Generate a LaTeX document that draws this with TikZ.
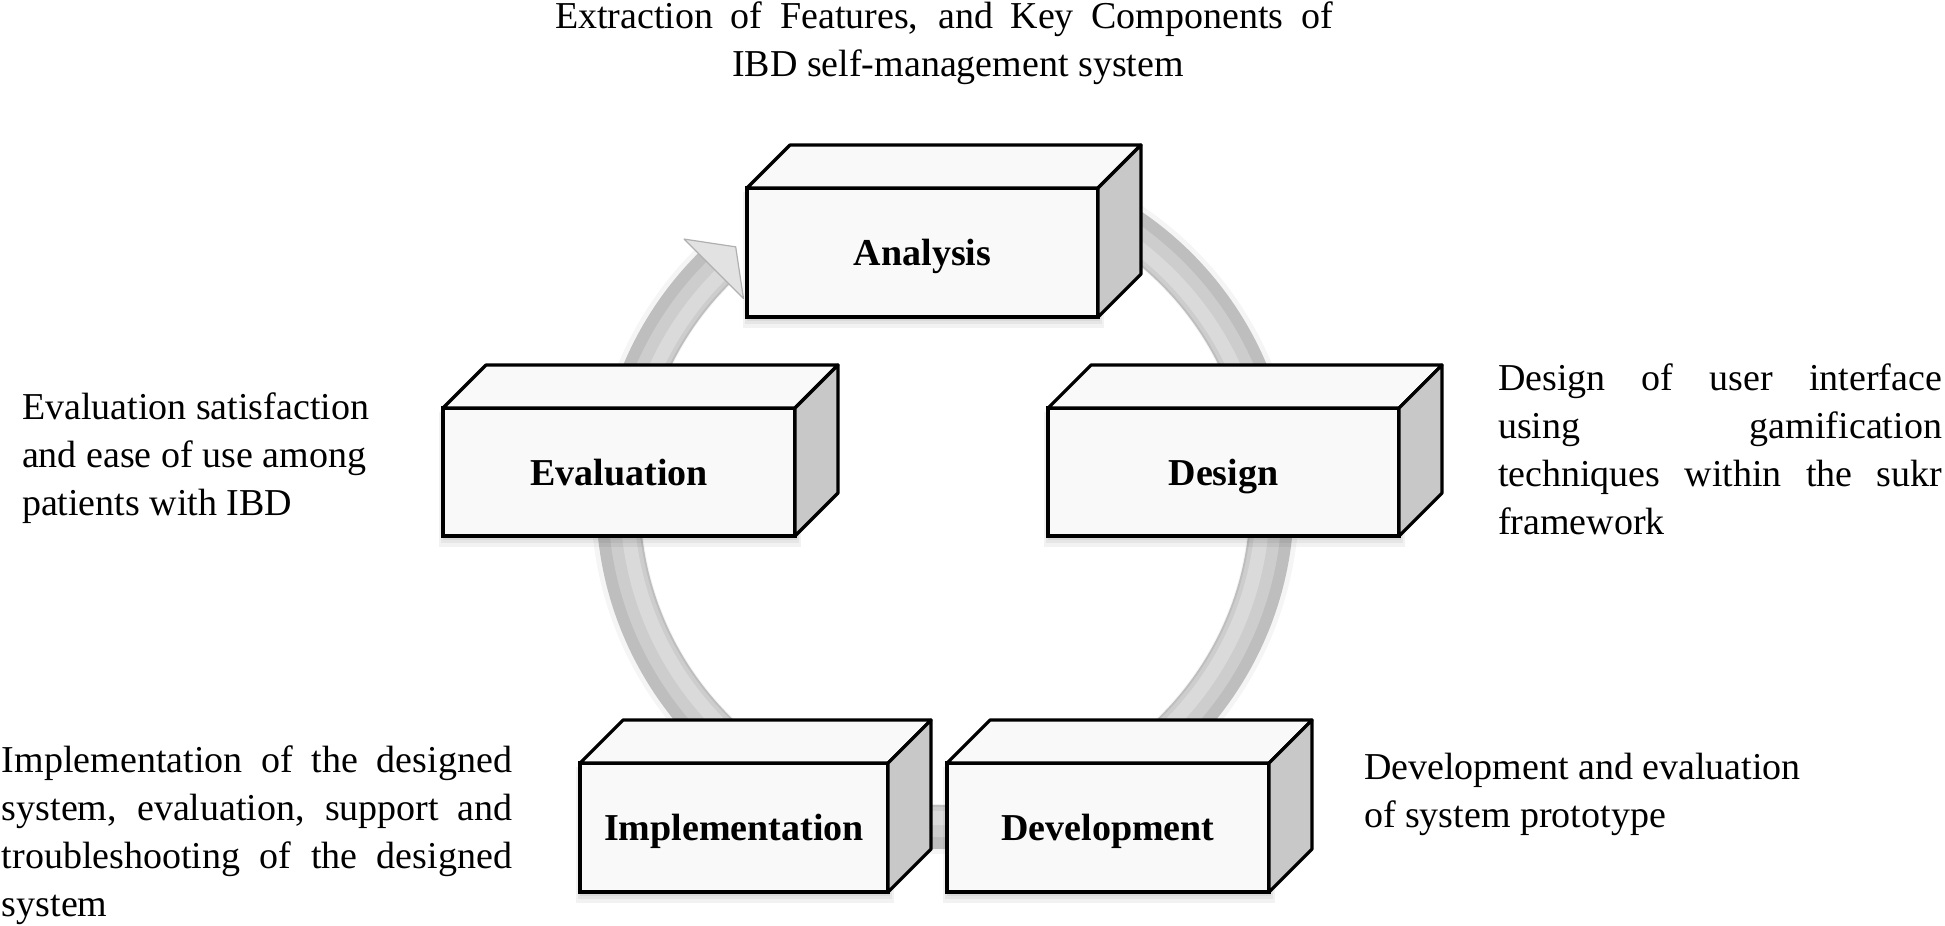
\documentclass[tikz,border=0pt]{standalone}
\usepackage{fontspec}
\setmainfont{Liberation Serif}
\usetikzlibrary{calc}
\definecolor{facefront}{HTML}{F9F9F9}
\definecolor{faceside}{HTML}{C8C8C8}
\definecolor{ringA}{HTML}{BEBEBE}
\definecolor{ringB}{HTML}{CDCDCD}
\definecolor{ringC}{HTML}{DADADA}
\definecolor{headfill}{HTML}{E2E2E2}
\definecolor{headedge}{HTML}{B0B0B0}
\tikzset{
  frontface/.style={draw=black, line width=1.6pt, fill=facefront, inner sep=0pt, outer sep=0pt,
    anchor=north west, text height=13pt, text depth=0pt, font=\fontsize{19}{24}\selectfont\bfseries},
  topface/.style={draw=black, line width=1.6pt, fill=facefront, line join=round},
  sideface/.style={draw=black, line width=1.6pt, fill=faceside, line join=round},
  boxshadow/.style={fill=black, opacity=0.05},
  desc/.style={inner sep=0pt, outer sep=0pt, font=\fontsize{19}{24}\selectfont, align=left, anchor=north west},
  ringline/.style={line cap=butt},
}
\newcommand\tstrut{\rule{0pt}{14pt}}
% name, x, y, width(px), height(px), label
\newcommand\cubebox[6]{%
  \fill[boxshadow] (#2-4,#3+4) rectangle (#2+#4+6,#3+#5+11);
  \fill[boxshadow] (#2-2,#3+3) rectangle (#2+#4+4,#3+#5+7);
  \fill[boxshadow] (#2,#3+2) rectangle (#2+#4+2,#3+#5+4);
  \node[frontface, minimum width=#4*0.5pt, minimum height=#5*0.5pt] (#1) at (#2,#3) {#6};
  \draw[topface] (#1.north west) -- ++(43,-43) -- ++(#4,0) -- (#1.north east) -- cycle;
  \draw[sideface] (#1.north east) -- ++(43,-43) -- ++(0,#5) -- (#1.south east) -- cycle;
}
\begin{document}
\begin{tikzpicture}[x=0.5pt, y=-0.5pt]
\useasboundingbox (0,0) rectangle (1945,926);

% cycle ring
\coordinate (c) at (945,500);
\draw[ringline, line width=25pt, black, opacity=0.04] ($(c)+(-95:329)$) arc[start angle=-95, end angle=225, radius=329];
\draw[ringline, line width=22pt, ringA] ($(c)+(-95:327)$) arc[start angle=-95, end angle=225, radius=327];
\draw[ringline, line width=15pt, ringB] ($(c)+(-95:322)$) arc[start angle=-95, end angle=225, radius=322];
\draw[ringline, line width=7pt, ringC] ($(c)+(-95:318)$) arc[start angle=-95, end angle=225, radius=318];
\coordinate (hbo) at ($(c)+(225:369)$);
\coordinate (hbi) at ($(c)+(225:285)$);
\coordinate (htip) at ($(c)+(225:327)+(315:31)$);
\filldraw[fill=headfill, draw=headedge, line width=0.6pt, line join=round] (hbo) -- (htip) -- (hbi) -- cycle;

% boxes
\cubebox{A}{747}{188}{351}{129}{Analysis}
\cubebox{V}{443}{408}{352}{128}{Evaluation}
\cubebox{D}{1048}{408}{351}{128}{Design}
\cubebox{I}{580}{763}{308}{129}{Implementation}
\cubebox{E}{947}{763}{322}{129}{Development}

% texts
\node[desc, align=center, anchor=north] (title) at (944,0)
  {\tstrut\makebox[389pt][s]{Extraction of Features, and Key Components of}\\\hspace*{14pt}IBD self-management system};
\node[desc] (tV) at (22,391)
  {\tstrut Evaluation satisfaction\\and ease of use among\\patients with IBD};
\node[desc] (tD) at (1498,362)
  {\tstrut\makebox[222pt][s]{Design of user interface}\\
   \makebox[222pt][s]{using gamification}\\
   \makebox[222pt][s]{techniques within the sukr}\\
   framework};
\node[desc] (tI) at (2,744)
  {\tstrut\makebox[255pt][s]{Implementation of the designed}\\
   \makebox[255pt][s]{system, evaluation, support and}\\
   \makebox[255pt][s]{troubleshooting of the designed}\\
   system};
\node[desc] (tE) at (1364,751)
  {\tstrut Development and evaluation\\of system prototype};
\end{tikzpicture}
\end{document}
